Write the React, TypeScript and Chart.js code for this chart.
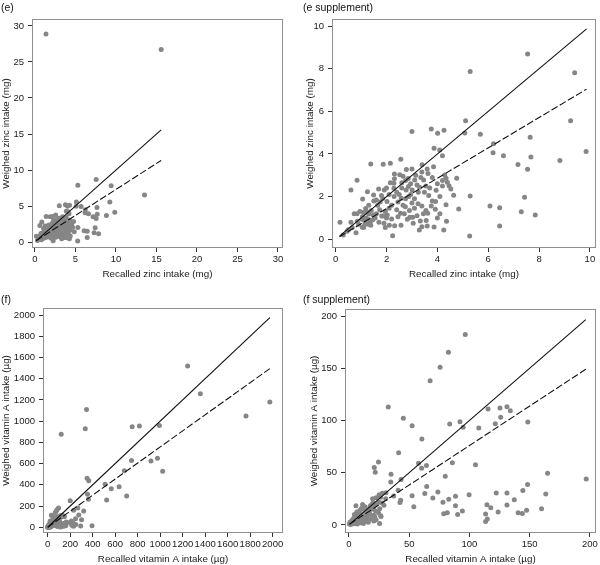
import React, { useEffect, useRef } from "react";
import { Chart, registerables } from "chart.js";
Chart.register(...registerables);

const FONT = "'Liberation Sans', Arial, sans-serif";

// ---------- data (e) zinc ----------
const eSuppPoints: [number, number][] = [
  [7.55, 8.69], [5.29, 7.87], [9.4, 7.81], [9.24, 5.56], [5.11, 5.56], [5.08, 4.98], [5.69, 4.92], [4.26, 5.11],
  [7.65, 4.78], [6.21, 4.48], [6.19, 4.06], [6.6, 3.92], [7.68, 3.86], [9.85, 4.12], [8.82, 3.69], [7.17, 3.51],
  [7.55, 3.28], [4.2, 3.92], [4.29, 3.01], [4.76, 2.86], [4.34, 2.86], [4.39, 2.67], [4.46, 2.51], [4.53, 2.36],
  [4.64, 2.06], [5.29, 2.03], [4.34, 1.62], [4.84, 1.42], [6.07, 1.56], [6.45, 1.48], [7.43, 1.97], [7.3, 1.29],
  [7.85, 1.14], [4.36, 0.84], [4.25, 0.44], [6.45, 0.62], [5.27, 0.15],
  [3.0, 5.05], [3.76, 5.17], [4.01, 4.97], [3.87, 4.27], [4.09, 4.19], [2.56, 3.75], [1.38, 3.53], [1.87, 3.52],
  [2.15, 3.56], [2.78, 3.27], [2.31, 3.06], [2.31, 2.84], [2.52, 3.02], [3.39, 3.16], [3.63, 3.08], [3.11, 2.78],
  [3.46, 2.78], [0.84, 2.77], [0.6, 2.31], [1.25, 2.23], [2.29, 2.63], [2.86, 2.47], [2.77, 2.31], [3.01, 2.31],
  [3.3, 2.44], [3.49, 2.2], [1.49, 2.08], [1.69, 2.36], [1.91, 2.31], [2.29, 2.39], [2.6, 2.4], [1.06, 1.89],
  [1.6, 1.84], [1.85, 1.91], [2.02, 1.77], [2.58, 1.92], [2.87, 2.0], [2.95, 2.1], [3.1, 1.9], [2.74, 1.52],
  [3.24, 1.67], [3.39, 1.56], [3.66, 2.05], [3.93, 1.77], [3.76, 1.56], [3.92, 1.41], [3.62, 1.22], [3.56, 0.88],
  [3.33, 0.86], [2.92, 1.03], [3.03, 1.03], [2.82, 0.94], [2.57, 0.66], [2.32, 0.63], [2.11, 0.66], [3.29, 0.44],
  [3.39, 0.59], [3.87, 0.58], [2.24, 0.16],
  [0.17, 0.8], [0.6, 0.8], [0.45, 0.38], [0.5, 0.45], [0.8, 0.31], [0.73, 1.2], [0.84, 1.2], [1.03, 0.94],
  [1.05, 0.56], [1.18, 1.44], [1.22, 1.3], [1.3, 1.19], [1.32, 0.91], [1.35, 0.78], [1.38, 0.66], [1.28, 0.7],
  [1.48, 1.14], [1.55, 1.0], [1.73, 1.38], [1.81, 1.09], [1.89, 1.09], [2.03, 1.14], [1.95, 1.3], [2.1, 1.45],
  [2.4, 1.38], [2.55, 1.22], [1.65, 1.6], [1.75, 1.75], [1.1, 1.25], [1.05, 1.05], [0.95, 1.3], [1.15, 0.85],
  [0.9, 0.7], [0.65, 0.55], [0.3, 0.2], [1.2, 1.0], [1.4, 1.35], [1.6, 1.2], [2.2, 0.95], [2.0, 1.0],
  [2.45, 1.05], [2.7, 1.2], [2.65, 1.6], [2.9, 1.35], [3.1, 1.45], [3.2, 1.1], [3.45, 1.2], [3.55, 1.35],
  [2.2, 1.6], [2.45, 1.75], [2.3, 2.0], [2.1, 2.1], [1.8, 2.05], [2.0, 2.4], [2.15, 2.65], [2.4, 2.2],
  [2.6, 2.65], [2.75, 2.75], [2.95, 2.6], [3.2, 2.55], [3.35, 2.9], [3.15, 3.0], [3.55, 2.5], [3.7, 2.4],
  [3.95, 2.3], [4.0, 2.6], [4.1, 2.0], [3.8, 2.9], [3.85, 3.4], [3.4, 3.5], [3.6, 3.3], [3.0, 3.3],
  [2.65, 2.95], [2.85, 2.85], [1.5, 1.8], [1.3, 1.6], [1.7, 0.8], [1.9, 0.75], [3.05, 0.75], [3.6, 0.62],
  [4.0, 1.0], [4.1, 1.2], [3.8, 1.8], [4.2, 2.5], [4.2, 2.75], [1.1, 0.55], [0.85, 0.85], [1.15, 0.7],
  [1.45, 0.9], [2.75, 1.9], [3.0, 1.7], [3.25, 2.2], [2.5, 2.1], [1.95, 0.55],
];
const eExtraPoints: [number, number][] = [[1.36, 28.9], [15.58, 26.72], [13.52, 6.52]];
const ePoints: [number, number][] = [...eSuppPoints, ...eExtraPoints];

const eLineX = [0.15, 15.58];
const eSolidY = [0.15, 15.58];
const eDashY = [0.2, 11.33];
const eSuppLineX = [0.15, 9.87];
const eSuppSolidY = [0.15, 9.87];
const eSuppDashY = [0.12, 7.04];

const eTicks = [0, 5, 10, 15, 20, 25, 30];
const eSuppTicks = [0, 2, 4, 6, 8, 10];

// ---------- data (f) vitamin A ----------
const fSuppPoints: [number, number][] = [
  [96.5, 182.3], [82.5, 165.3], [75.6, 151], [67.3, 138.1], [32.6, 112.9], [45.1, 102.1], [52.4, 95], [60.5, 82.2],
  [83.6, 96.7], [92.1, 98.8], [94.8, 93.6], [107.7, 92.7], [115.4, 111], [125.3, 112], [131.1, 113.2], [133.9, 109.4],
  [125.9, 103.1], [121.4, 96.9], [148.4, 98.6],
  [41.2, 69.2], [24.5, 60.2], [21, 55], [21.8, 50.4], [57.7, 59.1], [60.3, 54.3], [64.3, 56.9], [85.8, 59.6],
  [105, 57.6], [79.9, 46.7], [164.8, 49.5], [196.9, 44], [34.9, 48.6], [34.7, 41], [43.2, 43.6], [64.5, 36.9],
  [148.2, 38.7],
  [62.9, 30], [52.4, 27.9], [73.8, 31.5], [69.6, 25.7], [78, 21.7], [82.8, 24.5], [88.4, 27.5], [88.4, 18.5],
  [53.8, 17.5], [99.7, 28.9], [94.1, 13.4], [90.2, 10], [81.6, 11.8], [78.6, 10.8],
  [122.2, 30.6], [131.1, 30.6], [137.2, 24.2], [131.1, 19], [144.3, 33], [163.3, 29.7], [159.8, 15.4], [114.5, 19.3],
  [117.7, 16.4], [123.8, 12.3], [140.4, 11.8], [143.9, 11], [147.4, 14], [113.4, 10.4], [114.8, 5.8], [113.4, 3.3],
  [40.8, 33.2], [27.7, 30.3], [26.3, 26.5], [30.7, 30.9], [37.1, 27.8], [24.6, 22], [19.6, 25.2], [29, 18.8],
  [25.5, 15.6], [22.1, 13.4], [20.5, 9.3], [26.3, 8.9], [25.4, 1.5], [42.9, 23.6], [42.3, 21.4],
  [5.8, 18.5], [11.3, 19.5], [13.3, 17.5], [17.7, 18.5], [20.2, 15], [7.7, 10.8], [10, 10.2], [13.6, 12.8],
  [16.6, 10.8], [18.8, 8.6], [21.3, 8], [24.6, 11.5], [26.6, 8], [0.8, 2.6], [2.5, 4.5], [3.9, 6.4],
  [5.3, 8], [7.5, 2.9], [11.1, 4.1], [14.4, 3.8], [16, 2.6], [11.9, 7], [14.9, 7.7], [20.7, 3.8],
  [0.3, 1], [1.5, 0.5], [3, 2], [4.5, 1.2], [6, 5], [8, 6.5], [9, 14], [10.5, 16],
  [12, 15], [15, 14], [17, 12], [19, 19.5], [22, 19], [6.5, 12.5], [4.5, 10], [8.5, 8.5],
  [12.5, 6], [14, 9.5], [18, 5.5], [22.5, 5], [9.5, 2], [12, 1.5], [7, 0.8], [17, 16],
  [27.5, 21], [30.5, 25], [22.5, 26], [25, 29], [20, 21.5], [9, 4], [2, 3], [6, 3],
];
const fExtraPoints: [number, number][] = [
  [1244, 1520], [1357, 1259], [1975, 1180], [1763, 1049], [345, 1110], [334, 928], [120, 876], [751, 948],
  [815, 954], [993, 958], [745, 628], [918, 624], [976, 650], [1022, 527], [681, 532], [510, 406],
  [565, 362], [635, 381], [702, 294], [524, 256], [350, 462], [365, 438], [354, 312], [362, 264],
  [394, 15], [200, 251], [267, 182], [231, 160], [320, 154], [276, 116], [247, 80], [301, 71],
  [293, 12], [225, 40], [250, 25], [210, 60], [230, 10], [215, 20],
];
const fPoints: [number, number][] = [...fSuppPoints, ...fExtraPoints];

const fLineX = [0, 1975];
const fSolidY = [0, 1975];
const fDashY = [0, 1495];
const fSuppLineX = [0.5, 196.5];
const fSuppSolidY = [0.5, 196.5];
const fSuppDashY = [0.8, 149];

const fTicks = [0, 200, 400, 600, 800, 1000, 1200, 1400, 1600, 1800, 2000];
const fSuppTicks = [0, 50, 100, 150, 200];

type Panel = {
  label: string;
  points: [number, number][];
  lineX: number[];
  solidY: number[];
  dashY: number[];
  xRange: [number, number];
  yRange: [number, number];
  xTicks: number[];
  yTicks: number[];
  xTitle: string;
  yTitle: string;
  left: number;
  top: number;
  box: { l: number; t: number; r: number; b: number };
  yTitlePad: number;
  xTitlePad: number;
};

const W = 300;
const H = 282;

const panels: Panel[] = [
  {
    label: "(e)", points: ePoints, lineX: eLineX, solidY: eSolidY, dashY: eDashY,
    xRange: [-0.37, 30.62], yRange: [-0.83, 30.97], xTicks: eTicks, yTicks: eTicks,
    xTitle: "Recalled zinc intake (mg)", yTitle: "Weighed zinc intake (mg)",
    left: 0, top: 0, box: { l: 32, t: 19, r: 283, b: 248 }, yTitlePad: 0, xTitlePad: 2,
  },
  {
    label: "(e supplement)", points: eSuppPoints, lineX: eSuppLineX, solidY: eSuppSolidY, dashY: eSuppDashY,
    xRange: [-0.145, 10.24], yRange: [-0.41, 10.33], xTicks: eSuppTicks, yTicks: eSuppTicks,
    xTitle: "Recalled zinc intake (mg)", yTitle: "Weighed zinc intake (mg)",
    left: 300, top: 0, box: { l: 32, t: 19, r: 296, b: 248 }, yTitlePad: 4, xTitlePad: 2,
  },
  {
    label: "(f)", points: fPoints, lineX: fLineX, solidY: fSolidY, dashY: fDashY,
    xRange: [-42, 2092], yRange: [-54, 2066], xTicks: fTicks, yTicks: fTicks,
    xTitle: "Recalled vitamin A intake (\u00b5g)", yTitle: "Weighed vitamin A intake (\u00b5g)",
    left: 0, top: 283, box: { l: 43, t: 25, r: 283, b: 250 }, yTitlePad: 0, xTitlePad: 0,
  },
  {
    label: "(f supplement)", points: fSuppPoints, lineX: fSuppLineX, solidY: fSuppSolidY, dashY: fSuppDashY,
    xRange: [-3.3, 205], yRange: [-7.7, 206.7], xTicks: fSuppTicks, yTicks: fSuppTicks,
    xTitle: "Recalled vitamin A intake (\u00b5g)", yTitle: "Weighed vitamin A intake (\u00b5g)",
    left: 300, top: 283, box: { l: 45, t: 26, r: 296, b: 250 }, yTitlePad: 8, xTitlePad: 0,
  },
];

const boxPlugin = {
  id: "plotBox",
  afterDatasetsDraw(chart: any) {
    const { ctx, chartArea } = chart;
    const { left, top, right, bottom } = chartArea;
    ctx.save();
    ctx.strokeStyle = "#8f8f8f";
    ctx.lineWidth = 1;
    ctx.strokeRect(Math.round(left) + 0.5, Math.round(top) + 0.5, Math.round(right - left) - 1, Math.round(bottom - top) - 1);
    ctx.restore();
  },
};

function ScatterPanel({ p }: { p: Panel }) {
  const ref = useRef<HTMLCanvasElement>(null);
  useEffect(() => {
    const canvas = ref.current;
    if (!canvas) return;
    const tickFont = { family: FONT, size: 9.5 };
    const titleFont = { family: FONT, size: 9.8 };
    const chart = new Chart(canvas, {
      type: "scatter",
      data: {
        datasets: [
          {
            data: p.lineX.map((x, i) => ({ x, y: p.solidY[i] })),
            showLine: true, borderColor: "#111", borderWidth: 1.1, pointRadius: 0, fill: false,
          },
          {
            data: p.lineX.map((x, i) => ({ x, y: p.dashY[i] })),
            showLine: true, borderColor: "#111", borderWidth: 1.1, borderDash: [7, 2.5], pointRadius: 0, fill: false,
          },
          {
            data: p.points.map(([x, y]) => ({ x, y })),
            pointRadius: 2.5, pointBackgroundColor: "#868686", backgroundColor: "#868686",
            pointBorderWidth: 0, borderColor: "rgba(0,0,0,0)",
          },
        ],
      } as any,
      options: {
        responsive: false,
        animation: false,
        events: [],
        layout: { padding: { top: p.box.t, right: W - p.box.r, bottom: 0, left: 0 } },
        plugins: { legend: { display: false }, tooltip: { enabled: false }, title: { display: false } },
        scales: {
          x: {
            type: "linear",
            min: p.xRange[0],
            max: p.xRange[1],
            afterBuildTicks: (s: any) => { s.ticks = p.xTicks.map((v) => ({ value: v })); },
            afterFit: (s: any) => { s.height = H - p.box.b; s.paddingLeft = 0; s.paddingRight = 0; },
            grid: { drawOnChartArea: false, drawTicks: true, tickLength: 4, tickColor: "#333" },
            border: { display: false },
            ticks: { autoSkip: false, maxRotation: 0, minRotation: 0, padding: 2, color: "#1a1a1a", font: tickFont, callback: (v: any) => String(v) },
            title: { display: true, text: p.xTitle, color: "#1a1a1a", font: titleFont, padding: { top: 0, bottom: p.xTitlePad } },
          },
          y: {
            type: "linear",
            min: p.yRange[0],
            max: p.yRange[1],
            afterBuildTicks: (s: any) => { s.ticks = p.yTicks.map((v) => ({ value: v })); },
            afterFit: (s: any) => { s.width = p.box.l; s.paddingTop = 0; s.paddingBottom = 0; },
            grid: { drawOnChartArea: false, drawTicks: true, tickLength: 4, tickColor: "#333" },
            border: { display: false },
            ticks: { autoSkip: false, padding: 4, color: "#1a1a1a", font: tickFont, callback: (v: any) => String(v) },
            title: { display: true, text: p.yTitle, color: "#1a1a1a", font: titleFont, padding: { top: p.yTitlePad, bottom: 0 } },
          },
        },
      } as any,
      plugins: [boxPlugin],
    });
    return () => chart.destroy();
  }, [p]);
  return (
    <>
      <canvas
        ref={ref}
        width={W}
        height={H}
        style={{ position: "absolute", left: p.left, top: p.top, width: W, height: H }}
      />
      <div
        style={{
          position: "absolute", left: p.left + (p.left ? 3 : 1), top: p.top + (p.top ? 10 : 1),
          fontFamily: FONT, fontSize: 10.5, color: "#111", lineHeight: "12px", whiteSpace: "nowrap",
        }}
      >
        {p.label}
      </div>
    </>
  );
}

export default function App() {
  return (
    <div style={{ position: "absolute", left: 0, top: 0, width: 600, height: 565, background: "#fff" }}>
      {panels.map((p) => (
        <ScatterPanel key={p.label} p={p} />
      ))}
    </div>
  );
}
